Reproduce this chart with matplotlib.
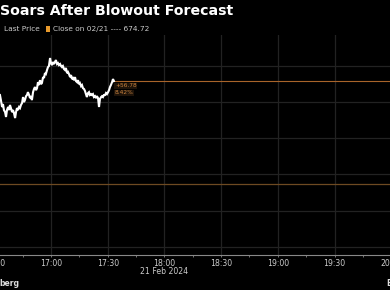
import matplotlib
matplotlib.use('Agg')
import matplotlib.pyplot as plt
from matplotlib.patches import Rectangle

# minutes after 16:30 on 21 Feb 2024, and the traded price
minutes = [3.0, 3.5, 4.1, 4.6, 5.1, 5.7, 6.2, 6.7, 7.3, 7.8, 8.3, 8.8, 9.4, 9.9, 10.4, 11.0,
           11.5, 12.0, 12.5, 13.1, 13.6, 14.1, 14.7, 15.2, 15.7, 16.2, 16.8, 17.3, 17.8, 18.4,
           18.9, 19.4, 19.9, 20.5, 21.0, 21.5, 22.1, 22.6, 23.1, 23.6, 24.2, 24.7, 25.2, 25.8,
           26.3, 26.8, 27.3, 27.9, 28.4, 28.9, 29.5, 30.0, 30.5, 31.1, 31.6, 32.1, 32.6, 33.2,
           33.7, 34.2, 34.8, 35.3, 35.8, 36.3, 36.9, 37.4, 37.9, 38.5, 39.0, 39.5, 40.1, 40.6,
           41.1, 41.6, 42.2, 42.7, 43.2, 43.8, 44.3, 44.8, 45.3, 45.9, 46.4, 46.9, 47.5, 48.0,
           48.5, 49.0, 49.6, 50.1, 50.6, 51.2, 51.7, 52.2, 52.7, 53.3, 53.8, 54.3, 54.9, 55.4,
           55.9, 56.5, 57.0, 57.5, 58.0, 58.6, 59.1, 59.6, 60.2, 60.7, 61.2, 61.7, 62.3, 62.8, 63.3]
prices = [723.8, 721.0, 717.2, 718.8, 715.5, 714.4, 711.7, 715.5, 717.2, 715.5, 718.3, 716.6,
          714.4, 715.5, 713.9, 711.1, 714.4, 716.6, 715.5, 717.2, 716.6, 718.3, 719.4, 722.7,
          719.9, 721.0, 723.2, 723.8, 725.4, 723.8, 722.1, 723.2, 721.0, 725.4, 727.1, 728.2,
          726.5, 727.6, 730.9, 729.3, 732.0, 729.8, 730.4, 733.7, 733.2, 735.9, 735.4, 737.6,
          739.2, 739.8, 744.2, 741.4, 740.3, 742.0, 740.9, 742.0, 743.1, 740.9, 741.4, 740.3,
          740.9, 739.8, 739.2, 739.8, 738.1, 737.6, 738.7, 735.9, 736.5, 735.4, 733.7, 734.8,
          732.6, 733.2, 732.0, 733.7, 731.5, 730.9, 732.0, 729.8, 730.4, 728.7, 729.3, 727.6,
          727.1, 726.0, 724.3, 722.7, 724.9, 725.4, 723.8, 724.3, 723.8, 724.3, 722.7, 723.2,
          722.1, 723.2, 722.1, 717.2, 721.6, 722.7, 723.2, 722.7, 723.8, 723.8, 724.9, 724.3,
          725.4, 726.5, 728.2, 729.3, 730.9, 732.6, 731.5]
close_price = 674.72
change_label = "+56.78"
pct_label = "8.42%"
tick_minutes = [0, 30, 60, 90, 120, 150, 180, 210]
tick_labels = ["16:30", "17:00", "17:30", "18:00", "18:30", "19:00", "19:30", "20:00"]
minor_minutes = [15, 45, 75, 105, 135, 165, 195, 225]
y_grid = [640, 660, 680, 700, 720, 740]
title = "Soars After Blowout Forecast"
legend_last = "Last Price"
legend_close = "Close on 02/21 ---- 674.72"
date_label = "21 Feb 2024"

W, H = 390, 290
fig = plt.figure(figsize=(W / 100, H / 100), dpi=100, facecolor='black')

left_px, right_px = -10, 420
top_px, bot_px = 35, 255
ax = fig.add_axes([left_px / W, (H - bot_px) / H, (right_px - left_px) / W, (bot_px - top_px) / H])
ax.set_facecolor('black')
ppm = 1.89  # pixels per minute
ax.set_xlim((left_px - 51) / ppm + 30, (right_px - 51) / ppm + 30)
ax.set_ylim(635.6, 756.9)

grid_c = '#222222'
for t in tick_minutes:
    ax.axvline(t, color=grid_c, lw=0.9, zorder=1)
for y in y_grid:
    ax.axhline(y, color=grid_c, lw=0.9, zorder=1)

ax.axhline(close_price, color='#6e4a22', lw=0.9, zorder=2)
ax.plot([minutes[-1], 300], [prices[-1], prices[-1]], color='#a8642a', lw=0.8, zorder=2)
ax.plot(minutes, prices, color='white', lw=1.5, zorder=3, solid_joinstyle='miter')

ax.text(minutes[-1] + 0.5, prices[-1] - 1.2, change_label, fontsize=4.2, color='#c8823e',
        va='top', ha='left', zorder=4,
        bbox=dict(facecolor='#1e1309', edgecolor='none', pad=0.4))
ax.text(minutes[-1] + 0.5, prices[-1] - 5.0, pct_label, fontsize=4.2, color='#c8823e',
        va='top', ha='left', zorder=4,
        bbox=dict(facecolor='#1e1309', edgecolor='none', pad=0.4))

for s in ['top', 'right', 'left']:
    ax.spines[s].set_visible(False)
ax.spines['bottom'].set_color('#888888')
ax.spines['bottom'].set_linewidth(0.8)
ax.set_yticks([])
ax.set_xticks(tick_minutes)
ax.set_xticklabels(tick_labels)
ax.set_xticks(minor_minutes, minor=True)
ax.tick_params(axis='x', which='both', length=1.6, width=0.6, color='#888888',
               labelcolor='#cccccc', labelsize=5.6, pad=1.2)

fig.text(0 / W, 1 - 11 / H, title, fontsize=10.2, fontweight='bold', color='white',
         va='center', ha='left')
fig.text(4 / W, 1 - 29 / H, legend_last, fontsize=5.3, color='#cccccc', va='center', ha='left')
fig.patches.append(Rectangle((46 / W, 1 - 31.5 / H), 4.5 / W, 5 / H, transform=fig.transFigure,
                             facecolor='#e89a2c', edgecolor='none'))
fig.text(53 / W, 1 - 29 / H, legend_close, fontsize=5.3, color='#cccccc', va='center', ha='left')
fig.text(164 / W, 1 - 272 / H, date_label, fontsize=5.6, color='#cccccc', va='center', ha='center')
fig.text(-1 / W, 1 - 283 / H, "berg", fontsize=5.5, fontweight='bold', color='#dddddd',
         va='center', ha='left')
fig.text(386 / W, 1 - 283 / H, "B", fontsize=5.5, fontweight='bold', color='#dddddd',
         va='center', ha='left')

fig.savefig('out.png', dpi=100, facecolor='black')
